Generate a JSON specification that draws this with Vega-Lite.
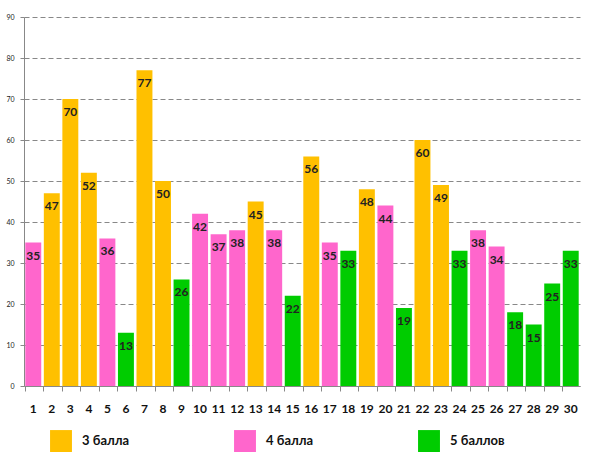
{
  "$schema": "https://vega.github.io/schema/vega-lite/v6.json",
  "autosize": {"type": "none"},
  "width": 556,
  "height": 369,
  "padding": {"left": 24, "top": 17, "right": 12, "bottom": 81},
  "background": "white",
  "config": {
    "view": {"stroke": null},
    "font": "Lato"
  },
  "data": {
    "values": [
      {"n": 1, "v": 35, "g": "4 балла"},
      {"n": 2, "v": 47, "g": "3 балла"},
      {"n": 3, "v": 70, "g": "3 балла"},
      {"n": 4, "v": 52, "g": "3 балла"},
      {"n": 5, "v": 36, "g": "4 балла"},
      {"n": 6, "v": 13, "g": "5 баллов"},
      {"n": 7, "v": 77, "g": "3 балла"},
      {"n": 8, "v": 50, "g": "3 балла"},
      {"n": 9, "v": 26, "g": "5 баллов"},
      {"n": 10, "v": 42, "g": "4 балла"},
      {"n": 11, "v": 37, "g": "4 балла"},
      {"n": 12, "v": 38, "g": "4 балла"},
      {"n": 13, "v": 45, "g": "3 балла"},
      {"n": 14, "v": 38, "g": "4 балла"},
      {"n": 15, "v": 22, "g": "5 баллов"},
      {"n": 16, "v": 56, "g": "3 балла"},
      {"n": 17, "v": 35, "g": "4 балла"},
      {"n": 18, "v": 33, "g": "5 баллов"},
      {"n": 19, "v": 48, "g": "3 балла"},
      {"n": 20, "v": 44, "g": "4 балла"},
      {"n": 21, "v": 19, "g": "5 баллов"},
      {"n": 22, "v": 60, "g": "3 балла"},
      {"n": 23, "v": 49, "g": "3 балла"},
      {"n": 24, "v": 33, "g": "5 баллов"},
      {"n": 25, "v": 38, "g": "4 балла"},
      {"n": 26, "v": 34, "g": "4 балла"},
      {"n": 27, "v": 18, "g": "5 баллов"},
      {"n": 28, "v": 15, "g": "5 баллов"},
      {"n": 29, "v": 25, "g": "5 баллов"},
      {"n": 30, "v": 33, "g": "5 баллов"}
    ]
  },
  "encoding": {
    "x": {
      "field": "n",
      "type": "ordinal",
      "title": null,
      "scale": {"paddingInner": 0.14, "paddingOuter": 0.07},
      "axis": {
        "labelAngle": 0,
        "labelFontWeight": "bold",
        "labelFontSize": 12,
        "labelColor": "#111",
        "labelPadding": 12,
        "domainColor": "#888",
        "tickColor": "#888",
        "tickSize": 5,
        "bandPosition": 0
      }
    },
    "y": {
      "field": "v",
      "type": "quantitative",
      "title": null,
      "scale": {"domain": [0, 90]},
      "axis": {
        "values": [0, 10, 20, 30, 40, 50, 60, 70, 80, 90],
        "labelFontSize": 7,
        "labelColor": "#222",
        "labelPadding": 6,
        "domainColor": "#888",
        "tickColor": "#888",
        "tickSize": 4,
        "grid": true,
        "gridColor": "#888",
        "gridDash": [5, 3]
      }
    }
  },
  "layer": [
    {
      "mark": {"type": "bar"},
      "encoding": {
        "color": {
          "field": "g",
          "type": "nominal",
          "scale": {
            "domain": ["3 балла", "4 балла", "5 баллов"],
            "range": ["#FFC000", "#FF66CC", "#00CC00"]
          },
          "legend": {
            "title": null,
            "orient": "none",
            "legendX": 26,
            "legendY": 413,
            "direction": "horizontal",
            "symbolType": "square",
            "symbolSize": 480,
            "symbolStrokeWidth": 0,
            "labelFontSize": 13,
            "labelFontWeight": "bold",
            "labelColor": "#111",
            "labelOffset": 10,
            "columnPadding": 104
          }
        }
      }
    },
    {
      "mark": {"type": "text", "baseline": "middle", "dy": 13, "fontSize": 12, "fontWeight": "bold", "color": "#222"},
      "encoding": {"text": {"field": "v", "type": "quantitative"}}
    }
  ]
}
